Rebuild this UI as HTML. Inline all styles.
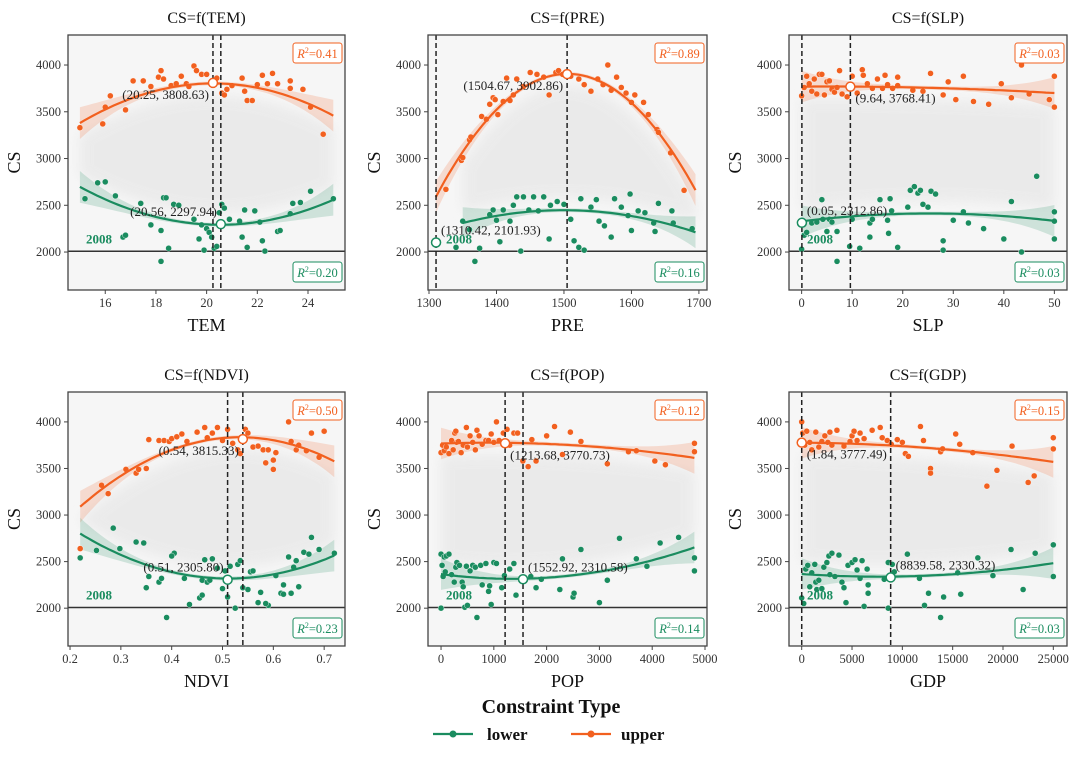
<!DOCTYPE html>
<html><head><meta charset="utf-8"><style>
html,body{margin:0;padding:0;background:#fff;}
svg{display:block;font-family:"Liberation Serif",serif;}
</style></head><body>
<svg id="chart" width="1080" height="761" viewBox="0 0 1080 761" xmlns="http://www.w3.org/2000/svg">
<defs><filter id="blur" x="-10%" y="-10%" width="120%" height="120%"><feGaussianBlur stdDeviation="6"/></filter></defs>
</svg>
<script>
// ---------- data ----------
const panelNames = ["TEM","PRE","SLP","NDVI","POP","GDP"];
const xTicksTEM = [16,18,20,22,24];
const xTicksPRE = [1300,1400,1500,1600,1700];
const xTicksSLP = [0,10,20,30,40,50];
const xTicksNDVI = [0.2,0.3,0.4,0.5,0.6,0.7];
const xTicksPOP = [0,1000,2000,3000,4000,5000];
const xTicksGDP = [0,5000,10000,15000,20000,25000];
const yTicks = [2000,2500,3000,3500,4000];
const baseline2008 = 2008;
const upperVertex = [[20.25,3808.63],[1504.67,3902.86],[9.64,3768.41],[0.54,3815.33],[1213.68,3770.73],[1.84,3777.49]];
const lowerVertex = [[20.56,2297.94],[1310.42,2101.93],[0.05,2312.86],[0.51,2305.80],[1552.92,2310.58],[8839.58,2330.32]];
const upperR2 = [0.41,0.89,0.03,0.50,0.12,0.15];
const lowerR2 = [0.20,0.16,0.03,0.23,0.14,0.03];

const fitUpperTEM = [[15,3390],[17,3620],[20.25,3808],[23,3700],[25,3450]];
const fitLowerTEM = [[15,2700],[17,2450],[20.56,2298],[23,2370],[25,2560]];
const fitUpperPRE = [[1310,2600],[1400,3500],[1504,3903],[1600,3620],[1695,2650]];
const fitLowerPRE = [[1350,2310],[1420,2410],[1520,2440],[1600,2390],[1695,2210]];
const fitUpperSLP = [[0,3770],[9.64,3768],[30,3750],[50,3700]];
const fitLowerSLP = [[0,2330],[10,2380],[25,2410],[40,2390],[50,2330]];
const fitUpperNDVI = [[0.22,3080],[0.35,3600],[0.54,3815],[0.65,3740],[0.72,3580]];
const fitLowerNDVI = [[0.22,2800],[0.35,2470],[0.51,2306],[0.62,2400],[0.72,2560]];
const fitUpperPOP = [[0,3770],[1213,3771],[2500,3750],[4000,3680],[4800,3610]];
const fitLowerPOP = [[0,2370],[800,2320],[1553,2311],[3000,2400],[4800,2650]];
const fitUpperGDP = [[0,3777],[8000,3750],[15000,3700],[25000,3570]];
const fitLowerGDP = [[0,2370],[8840,2330],[17000,2390],[25000,2480]];

const ptsUpperTEM = [[15,3330],[15.9,3370],[16,3550],[16.2,3670],[16.8,3520],[17.1,3830],[17.5,3830],[18.1,3870],[18.2,3940],[18.3,3850],[18.6,3780],[18.8,3800],[19,3880],[19.2,3800],[19.5,3990],[19.6,3940],[19.8,3900],[20,3900],[20.4,3860],[20.6,3700],[20.8,3740],[21,3780],[21.4,3860],[21.5,3720],[21.6,3620],[21.8,3620],[22,3790],[22.2,3890],[22.4,3800],[22.6,3910],[22.8,3800],[23.3,3830],[23.3,3750],[23.8,3740],[24.1,3550],[24.6,3260],[20.7,3680],[19.3,3770],[17.8,3770]];
const ptsLowerTEM = [[15.2,2570],[15.7,2740],[16,2750],[16.4,2600],[16.7,2160],[16.8,2180],[17.4,2520],[17.8,2290],[18.2,2230],[18.2,1900],[18.3,2580],[18.4,2580],[18.5,2040],[18.7,2510],[18.9,2500],[19.5,2350],[19.7,2140],[19.8,2290],[19.9,2020],[20,2250],[20.1,2210],[20.2,2160],[20.3,2040],[20.4,2060],[20.5,2420],[20.6,2510],[20.7,2470],[20.9,2350],[21.3,2330],[21.4,2160],[21.5,2450],[21.6,2050],[21.9,2440],[22.1,2320],[22.2,2120],[22.3,2010],[22.8,2220],[22.9,2230],[23.3,2410],[23.4,2520],[23.7,2530],[24.1,2650],[25,2570]];
const ptsUpperPRE = [[1325,2670],[1348,2980],[1350,3010],[1360,3200],[1362,3230],[1378,3450],[1385,3420],[1390,3580],[1395,3650],[1398,3630],[1402,3470],[1410,3610],[1415,3860],[1420,3620],[1425,3680],[1430,3850],[1440,3770],[1450,3920],[1460,3900],[1470,3870],[1478,3680],[1488,3920],[1492,3940],[1498,3900],[1510,3880],[1522,3850],[1530,3790],[1540,3720],[1550,3850],[1558,3790],[1565,4000],[1570,3730],[1578,3870],[1585,3760],[1592,3700],[1600,3600],[1605,3680],[1618,3600],[1625,3470],[1638,3310],[1640,3280],[1658,3060],[1678,2660]];
const ptsLowerPRE = [[1340,2050],[1350,2330],[1360,2240],[1368,1900],[1375,2040],[1390,2400],[1395,2450],[1400,2340],[1405,2110],[1410,2450],[1420,2330],[1425,2500],[1430,2590],[1436,2010],[1440,2590],[1448,2450],[1455,2590],[1462,2440],[1470,2590],[1478,2140],[1480,2500],[1490,2540],[1500,2510],[1510,2350],[1515,2120],[1522,2050],[1530,2020],[1525,2570],[1540,2480],[1548,2560],[1552,2330],[1560,2280],[1570,2160],[1575,2570],[1585,2480],[1595,2390],[1598,2620],[1600,2230],[1610,2440],[1620,2420],[1633,2310],[1635,2220],[1640,2520],[1660,2440],[1662,2310],[1690,2250]];
const ptsUpperSLP = [[0,3670],[0.5,3760],[1,3880],[1.5,3800],[2,3720],[2.5,3850],[3,3690],[3.5,3900],[4,3900],[4.5,3680],[5,3820],[5.5,3830],[6,3740],[6.5,3710],[7,3760],[7.5,3940],[8,3690],[9,3660],[10,3880],[11,3700],[12,3950],[12.2,3890],[13,3800],[14,3750],[15,3850],[16,3750],[16.5,3890],[17,3790],[18,3750],[19,3870],[19,3780],[22,3730],[24,3720],[25.5,3910],[28,3680],[29,3820],[30.5,3630],[32,3880],[34,3610],[37,3580],[39.5,3800],[41.5,3650],[43.5,4000],[45,3690],[49,3630],[50,3880],[50,3550]];
const ptsLowerSLP = [[0,2030],[0.5,2180],[1,2210],[2,2310],[3,2320],[4,2560],[4.2,2350],[5,2220],[5.5,2350],[6,2320],[7,2220],[7,1900],[9.5,2060],[10,2350],[11.5,2040],[13.5,2160],[13.5,2310],[14,2350],[15.5,2560],[17,2340],[17.2,2200],[17.5,2570],[17.8,2440],[19,2050],[21,2480],[21.5,2660],[22.3,2700],[23,2630],[23.5,2660],[24,2510],[25,2480],[25.6,2650],[26.5,2620],[28,2120],[28,2020],[30,2340],[32,2430],[33,2310],[36,2250],[40,2140],[41.5,2540],[43.5,2000],[46.5,2810],[50,2430],[50,2330],[50,2140]];
const ptsUpperNDVI = [[0.22,2640],[0.262,3320],[0.275,3230],[0.31,3490],[0.33,3450],[0.335,3490],[0.35,3500],[0.355,3810],[0.375,3800],[0.385,3800],[0.395,3790],[0.4,3820],[0.41,3840],[0.42,3870],[0.43,3790],[0.45,3890],[0.465,3940],[0.47,3830],[0.48,3880],[0.49,3940],[0.5,3800],[0.51,3920],[0.52,3770],[0.53,3700],[0.535,3660],[0.545,3920],[0.55,3880],[0.56,3730],[0.57,3740],[0.58,3700],[0.585,3560],[0.59,3700],[0.6,3590],[0.6,3490],[0.605,3670],[0.63,4000],[0.635,3790],[0.645,3700],[0.65,3750],[0.665,3690],[0.675,3880],[0.69,3620],[0.7,3900]];
const ptsLowerNDVI = [[0.22,2540],[0.252,2620],[0.285,2860],[0.298,2640],[0.33,2710],[0.345,2700],[0.35,2220],[0.355,2340],[0.375,2280],[0.38,2320],[0.39,1900],[0.405,2590],[0.4,2560],[0.425,2320],[0.435,2040],[0.455,2110],[0.46,2140],[0.46,2300],[0.465,2520],[0.47,2280],[0.475,2300],[0.48,2530],[0.49,2430],[0.5,2210],[0.505,2400],[0.51,2120],[0.515,2450],[0.525,2000],[0.53,2470],[0.535,2510],[0.54,2220],[0.55,2200],[0.555,2390],[0.56,2400],[0.57,2060],[0.575,2170],[0.59,2030],[0.585,2050],[0.605,2350],[0.615,2160],[0.62,2150],[0.62,2250],[0.63,2550],[0.635,2160],[0.64,2440],[0.645,2510],[0.65,2230],[0.66,2600],[0.67,2580],[0.675,2760],[0.69,2630],[0.72,2590]];
const ptsUpperPOP = [[0,3670],[30,3750],[60,3690],[100,3730],[150,3660],[200,3800],[230,3700],[260,3880],[280,3900],[300,3780],[330,3790],[380,3670],[420,3750],[480,3940],[500,3730],[550,3850],[600,3780],[650,3700],[680,3910],[720,3850],[780,3760],[850,3800],[900,3800],[950,3870],[1000,3780],[1050,4000],[1100,3800],[1180,3880],[1250,3920],[1300,3750],[1380,3880],[1450,3880],[1550,3580],[1650,3520],[1720,3810],[1800,3580],[2000,3850],[2150,3950],[2450,3890],[2300,3650],[2650,3790],[3150,3550],[3550,3680],[3700,3690],[4050,3580],[4250,3540],[4800,3770],[4800,3680]];
const ptsLowerPOP = [[0,2000],[0,2580],[20,2460],[40,2340],[60,2550],[80,2390],[100,2560],[150,2580],[200,2360],[250,2280],[280,2440],[300,2490],[350,2460],[400,2280],[420,2230],[450,2010],[480,2450],[500,2030],[550,2400],[600,2460],[650,2440],[680,1900],[750,2460],[780,2250],[850,2480],[900,2180],[920,2240],[950,2040],[1000,2490],[1050,2480],[1150,2220],[1200,2350],[1300,2420],[1380,2480],[1420,2140],[1700,2340],[1800,2220],[1900,2310],[2300,2530],[2250,2200],[2500,2120],[2520,2160],[2650,2630],[3000,2060],[3150,2300],[3380,2750],[3700,2530],[3900,2450],[4150,2700],[4500,2760],[4800,2540],[4800,2400]];
const ptsUpperGDP = [[0,4000],[100,3880],[300,3750],[500,3900],[800,3780],[1000,3700],[1400,3890],[1700,3730],[2000,3790],[2300,3850],[2600,3780],[2800,3890],[3000,3750],[3500,3910],[4200,3740],[4800,3790],[5000,3850],[5200,3900],[5500,3800],[5800,3880],[6200,3820],[7000,3910],[7800,3940],[8000,3830],[8500,3800],[8900,3760],[9500,3810],[10000,3780],[10300,3660],[10600,3630],[11800,3950],[12100,3800],[12800,3500],[12800,3450],[13800,3680],[14000,3710],[15300,3870],[15700,3760],[17000,3670],[18400,3310],[19400,3480],[20900,3740],[22500,3350],[23100,3420],[25000,3830],[25000,3710]];
const ptsLowerGDP = [[0,2110],[200,2050],[400,2420],[600,2460],[800,2230],[1000,2380],[1300,2470],[1400,2280],[1500,2200],[1700,2300],[2000,2210],[2200,2440],[2500,2490],[2700,2560],[2800,2360],[3000,2590],[3300,2340],[3700,2570],[4000,2280],[4200,2220],[4400,2060],[4600,2460],[5000,2490],[5300,2520],[5500,2410],[5800,2320],[6000,2510],[6200,2020],[6500,2420],[6600,2250],[6600,2160],[8200,2310],[8600,2000],[8600,2490],[9000,2470],[9200,2390],[10500,2580],[11700,2320],[12200,2030],[12600,2160],[13800,1900],[14100,2120],[15500,2380],[15800,2150],[17500,2540],[19000,2350],[20800,2630],[22000,2200],[23200,2590],[25000,2680],[25000,2340]];

// ---------- layout ----------
const NS = "http://www.w3.org/2000/svg";
const svg = document.getElementById("chart");
const ORANGE = "#f2601f", GREEN = "#1a8c5f";
const layout = [
  {L:68,R:345,T:35,B:290, xd:[14.53,25.46]},
  {L:428,R:707,T:35,B:290, xd:[1298.5,1712]},
  {L:789,R:1067,T:35,B:290, xd:[-2.5,52.5]},
  {L:68,R:345,T:392,B:646, xd:[0.196,0.741]},
  {L:428,R:707,T:392,B:646, xd:[-247,5038]},
  {L:789,R:1067,T:392,B:646, xd:[-1262,26360]}
];
const yDomain = [1594,4321];
const xTicksAll = [xTicksTEM,xTicksPRE,xTicksSLP,xTicksNDVI,xTicksPOP,xTicksGDP];
const fitsU = [fitUpperTEM,fitUpperPRE,fitUpperSLP,fitUpperNDVI,fitUpperPOP,fitUpperGDP];
const fitsL = [fitLowerTEM,fitLowerPRE,fitLowerSLP,fitLowerNDVI,fitLowerPOP,fitLowerGDP];
const ptsU = [ptsUpperTEM,ptsUpperPRE,ptsUpperSLP,ptsUpperNDVI,ptsUpperPOP,ptsUpperGDP];
const ptsL = [ptsLowerTEM,ptsLowerPRE,ptsLowerSLP,ptsLowerNDVI,ptsLowerPOP,ptsLowerGDP];
const labelModeU = ["bl","bl","br","bl","br","br"];
const labelModeL = ["al","ar","ar","al","ar","ar"];

function el(tag, attrs, parent){
  const e = document.createElementNS(NS, tag);
  for (const k in attrs) e.setAttribute(k, attrs[k]);
  (parent||svg).appendChild(e);
  return e;
}
function quadFit(pts){
  const xm = pts.reduce((s,p)=>s+p[0],0)/pts.length;
  const sc = pts.reduce((s,p)=>Math.max(s,Math.abs(p[0]-xm)),0)||1;
  let S=[0,0,0,0,0], T=[0,0,0];
  pts.forEach(p=>{const t=(p[0]-xm)/sc; let v=1; for(let i=0;i<5;i++){S[i]+=v; if(i<3)T[i]+=v*p[1]; v*=t;}});
  const M=[[S[0],S[1],S[2]],[S[1],S[2],S[3]],[S[2],S[3],S[4]]];
  const det=m=>m[0][0]*(m[1][1]*m[2][2]-m[1][2]*m[2][1])-m[0][1]*(m[1][0]*m[2][2]-m[1][2]*m[2][0])+m[0][2]*(m[1][0]*m[2][1]-m[1][1]*m[2][0]);
  const D=det(M); const c=[];
  for(let j=0;j<3;j++){const m=M.map((r,i)=>r.map((v,k)=>k===j?T[i]:v)); c.push(det(m)/D);}
  return x=>{const t=(x-xm)/sc; return c[0]+c[1]*t+c[2]*t*t;};
}
function fmt(v){ return v.toFixed(2); }

for (let i=0;i<6;i++){
  const P = layout[i];
  const name = panelNames[i].toLowerCase();
  const sx = v => P.L + (v-P.xd[0])/(P.xd[1]-P.xd[0])*(P.R-P.L);
  const sy = v => P.B - (v-yDomain[0])/(yDomain[1]-yDomain[0])*(P.B-P.T);
  const g = el("g",{});
  
  
  const cid = "clip"+i;
  const cp = el("clipPath",{id:cid},g); el("rect",{x:P.L,y:P.T,width:P.R-P.L,height:P.B-P.T},cp);
  const bg = el("rect",{x:P.L,y:P.T,width:P.R-P.L,height:P.B-P.T,fill:"#f6f6f6"},g);
  
  
  const inner = el("g",{"clip-path":"url(#"+cid+")"},g);

  const fu = quadFit(fitsU[i]), fl = quadFit(fitsL[i]);
  const xu0=fitsU[i][0][0], xu1=fitsU[i][fitsU[i].length-1][0];
  const xl0=fitsL[i][0][0], xl1=fitsL[i][fitsL[i].length-1][0];
  const N=60;
  const cx0=Math.max(xu0,xl0), cx1=Math.min(xu1,xl1);
  let cloud="";
  for(let k=0;k<=N;k++){const x=cx0+(cx1-cx0)*k/N; cloud+=(k?"L":"M")+sx(x).toFixed(1)+","+sy(fu(x)-130).toFixed(1);}
  for(let k=N;k>=0;k--){const x=cx0+(cx1-cx0)*k/N; cloud+="L"+sx(x).toFixed(1)+","+sy(fl(x)+130).toFixed(1);}
  const cl = el("path",{d:cloud+"Z",fill:"#e2e2e2",opacity:"0.55",filter:"url(#blur)"},inner);
  
  

  function band(f,x0,x1,color,nm){
    let d="";
    for(let k=0;k<=N;k++){const x=x0+(x1-x0)*k/N; const t=Math.abs(k/N-0.5)*2; const w=20+150*Math.pow(t,3);
      d+=(k?"L":"M")+sx(x).toFixed(1)+","+sy(f(x)+w).toFixed(1);}
    for(let k=N;k>=0;k--){const x=x0+(x1-x0)*k/N; const t=Math.abs(k/N-0.5)*2; const w=20+150*Math.pow(t,3);
      d+="L"+sx(x).toFixed(1)+","+sy(f(x)-w).toFixed(1);}
    const b = el("path",{d:d+"Z",fill:color,opacity:"0.18"},inner);
    
    
  }
  band(fu,xu0,xu1,ORANGE,"upper"); band(fl,xl0,xl1,GREEN,"lower");

  const bl = el("line",{x1:P.L,x2:P.R,y1:sy(baseline2008),y2:sy(baseline2008),stroke:"#333","stroke-width":1.5},inner);
  
  

  function dots(arr,color,nm){
    arr.forEach(p=>{
      const c = el("circle",{cx:sx(p[0]),cy:sy(p[1]),r:3,fill:color,stroke:"#fff","stroke-width":0.4},inner);
      
      
    });
  }
  dots(ptsU[i],ORANGE,"upper"); dots(ptsL[i],GREEN,"lower");

  function curve(f,x0,x1,color,nm){
    let d="";
    for(let k=0;k<=N;k++){const x=x0+(x1-x0)*k/N; d+=(k?"L":"M")+sx(x).toFixed(1)+","+sy(f(x)).toFixed(1);}
    const c = el("path",{d:d,fill:"none",stroke:color,"stroke-width":2.2},inner);
    
    
  }
  curve(fu,xu0,xu1,ORANGE,"upper"); curve(fl,xl0,xl1,GREEN,"lower");

  [upperVertex[i][0], lowerVertex[i][0]].forEach((vx,j)=>{
    const ln = el("line",{x1:sx(vx),x2:sx(vx),y1:P.T,y2:P.B,stroke:"#222","stroke-width":1.5,"stroke-dasharray":"5,3"},inner);
    
    
  });

  function vertex(v,color,mode,nm){
    const c = el("circle",{cx:sx(v[0]),cy:sy(v[1]),r:4.5,fill:"#fff",stroke:color,"stroke-width":1.5},g);
    
    
    const right = mode[1]==="r";
    const t = el("text",{x:sx(v[0])+(right?5:-4),y:sy(v[1])+(mode[0]==="b"?16:-8),"text-anchor":right?"start":"end","font-size":"13",fill:"#222"},g);
    t.textContent = "("+fmt(v[0])+", "+fmt(v[1])+")";
    
    
  }
  vertex(upperVertex[i],ORANGE,labelModeU[i],"upper");
  vertex(lowerVertex[i],GREEN,labelModeL[i],"lower");

  const y8 = el("text",{x:P.L+18,y:sy(baseline2008)-8,"font-size":"13","font-weight":"bold",fill:GREEN},g);
  y8.textContent="2008";
  
  

  function r2box(val,color,y,nm){
    const bx = el("g",{},g);
    
    
    el("rect",{x:P.R-52,y:y,width:49,height:20,rx:2.5,fill:"#fff",stroke:color,"stroke-width":1},bx);
    const t = el("text",{x:P.R-27.5,y:y+15,"text-anchor":"middle","font-size":"12.5",fill:color},bx);
    const a = el("tspan",{"font-style":"italic"},t); a.textContent="R";
    const s = el("tspan",{dy:"-5","font-size":"8"},t); s.textContent="2";
    const b = el("tspan",{dy:"5"},t); b.textContent="="+val.toFixed(2);
  }
  r2box(upperR2[i],ORANGE,P.T+8,"upper");
  r2box(lowerR2[i],GREEN,P.B-28,"lower");

  const fr = el("rect",{x:P.L,y:P.T,width:P.R-P.L,height:P.B-P.T,fill:"none",stroke:"#444","stroke-width":1.3},g);
  
  

  yTicks.forEach(v=>{
    el("line",{x1:P.L-4,x2:P.L,y1:sy(v),y2:sy(v),stroke:"#444","stroke-width":1},g);
    const t = el("text",{x:P.L-7,y:sy(v)+4,"text-anchor":"end","font-size":"12.5",fill:"#333"},g);
    t.textContent=v;
    
    
  });
  xTicksAll[i].forEach(v=>{
    el("line",{x1:sx(v),x2:sx(v),y1:P.B,y2:P.B+4,stroke:"#444","stroke-width":1},g);
    const t = el("text",{x:sx(v),y:P.B+17,"text-anchor":"middle","font-size":"12.5",fill:"#333"},g);
    t.textContent=v;
    
    
  });
  const xt = el("text",{x:(P.L+P.R)/2,y:P.B+41,"text-anchor":"middle","font-size":"18",fill:"#111"},g);
  xt.textContent=panelNames[i];
  
  
  const yt = el("text",{x:0,y:0,"text-anchor":"middle","font-size":"18",fill:"#111",transform:"translate("+(P.L-48)+","+((P.T+P.B)/2)+") rotate(-90)"},g);
  yt.textContent="CS";
  
  
  const tt = el("text",{x:(P.L+P.R)/2,y:P.T-12,"text-anchor":"middle","font-size":"16",fill:"#111"},g);
  tt.textContent="CS=f("+panelNames[i]+")";
  
  
}

const lg = el("g",{});


const lt = el("text",{x:551,y:713,"text-anchor":"middle","font-size":"20","font-weight":"bold",fill:"#111"},lg);
lt.textContent="Constraint Type";


[["lower",GREEN,433,487],["upper",ORANGE,571,621]].forEach(e=>{
  const it = el("g",{},lg);
  
  
  el("line",{x1:e[2],x2:e[2]+40,y1:734,y2:734,stroke:e[1],"stroke-width":2.2},it);
  el("circle",{cx:e[2]+20,cy:734,r:3.5,fill:e[1]},it);
  const t = el("text",{x:e[3],y:740,"font-size":"17","font-weight":"bold",fill:"#111"},it);
  t.textContent=e[0];
});
</script>
</body></html>
